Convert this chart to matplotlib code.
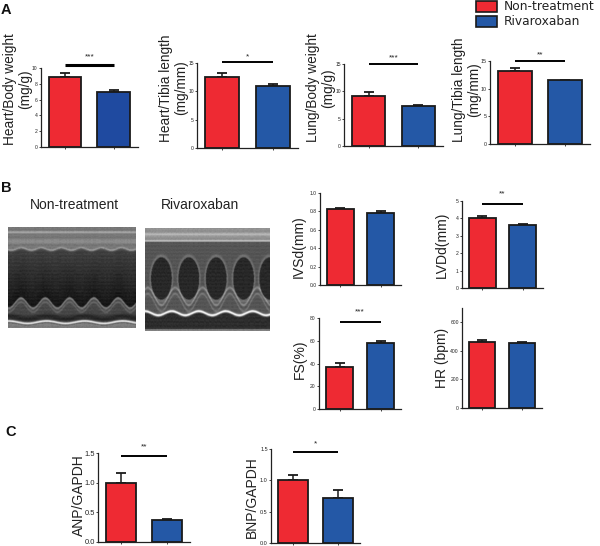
import numpy as np
import matplotlib
matplotlib.use("Agg")
import matplotlib.pyplot as plt
from matplotlib.patches import Rectangle

W, H = 600, 546
RED = "#EE2A33"
BLUE = "#2458A6"
DARK = "#1a1a1a"

# ---------- data ----------
heart_body = [8.8, 7.0];      heart_body_top = [9.4, 7.2]
heart_tibia = [12.5, 11.0];   heart_tibia_top = [13.2, 11.3]
lung_body = [9.2, 7.3];       lung_body_top = [9.9, 7.45]
lung_tibia = [13.2, 11.5];    lung_tibia_top = [13.8, 11.6]
ivsd = [0.83, 0.78];          ivsd_top = [0.84, 0.80]
lvdd = [4.03, 3.6];           lvdd_top = [4.15, 3.67]
fs = [36.5, 58.0];            fs_top = [40.5, 59.5]
hr = [460, 452];              hr_top = [473, 463]
anp = [1.0, 0.37];            anp_top = [1.16, 0.385]
bnp = [1.0, 0.72];            bnp_top = [1.09, 0.85]
groups = ["Non-treatment", "Rivaroxaban"]

plt.rcParams["font.family"] = ["Liberation Sans", "DejaVu Sans"]
fig = plt.figure(figsize=(W / 100, H / 100), dpi=100, facecolor="white")


def px_axes(x0, x1, ytop, ybot):
    return fig.add_axes([x0 / W, 1 - ybot / H, (x1 - x0) / W, (ybot - ytop) / H])


def panel(box, vals, tops, ylim, ticks, ticklabels, sig=None, sig_y=None, sig_lw=1.4,
          tick_fs=3.6, blue=BLUE, star_gap=None):
    ax = px_axes(*box)
    ax.patch.set_alpha(0)
    ax.bar([0, 1], vals, width=0.67, color=[RED, blue], edgecolor=DARK, linewidth=1.3, zorder=2)
    ax.errorbar([0, 1], vals, yerr=[[0, 0], np.array(tops) - np.array(vals)], fmt="none",
                ecolor=DARK, elinewidth=1.1, capsize=3.6, capthick=1.3, zorder=1)
    ax.set_xlim(-0.5, 1.5)
    ax.set_ylim(*ylim)
    ax.set_xticks([0, 1], ["", ""])
    ax.set_yticks(ticks, ticklabels)
    ax.tick_params(axis="both", length=1.5, width=0.6, pad=0.8, labelsize=tick_fs, colors="#222222")
    for s in ("top", "right"):
        ax.spines[s].set_visible(False)
    for s in ("left", "bottom"):
        ax.spines[s].set_linewidth(0.9)
        ax.spines[s].set_color("#222222")
    if sig:
        ax.plot([0, 1], [sig_y, sig_y], color="black", lw=sig_lw, clip_on=False,
                solid_capstyle="butt")
        span = ylim[1] - ylim[0]
        ax.text(0.5, sig_y + span * (star_gap or 0.045), sig, ha="center", va="center",
                fontsize=6, color="#222222", clip_on=False)
    return ax


def ylabel(x, y, text, size=9.8, spacing=1.1):
    fig.text(x / W, 1 - y / H, text, rotation=90, ha="center", va="center",
             fontsize=size, color="#222222", linespacing=spacing, multialignment="center")


# ---------- panel A ----------
panel((40.7, 138, 68, 147), heart_body, heart_body_top, (0, 10), [0, 2, 4, 6, 8, 10],
      list("02468") + ["10"], "***", 10.4, 2.2, blue="#1F4AA0", star_gap=0.1)
panel((197, 298, 63, 148), heart_tibia, heart_tibia_top, (0, 15), [0, 5, 10, 15],
      ["0", "5", "10", "15"], "*", 15.1, star_gap=0.06)
panel((344, 443, 64, 146), lung_body, lung_body_top, (0, 15), [0, 5, 10, 15],
      ["0", "5", "10", "15"], "***", 15.0, star_gap=0.08)
panel((490, 590, 61, 144), lung_tibia, lung_tibia_top, (0, 15), [0, 5, 10, 15],
      ["0", "5", "10", "15"], "**", 15.0, tick_fs=3.8, star_gap=0.07)

ylabel(18, 89, "Heart/Body weight\n(mg/g)")
ylabel(174, 88, "Heart/Tibia length\n(mg/mm)")
ylabel(320.5, 88, "Lung/Body weight\n(mg/g)")
ylabel(466.5, 90, "Lung/Tibia length\n(mg/mm)", spacing=1.05)

# ---------- panel B charts ----------
panel((320, 401, 193, 285), ivsd, ivsd_top, (0, 1.0), [0, .2, .4, .6, .8, 1.0],
      ["0.0", "0.2", "0.4", "0.6", "0.8", "1.0"])
panel((462, 543, 201, 288), lvdd, lvdd_top, (0, 5), [0, 1, 2, 3, 4, 5],
      list("012345"), "**", 4.83, star_gap=0.115)
panel((319, 401, 318, 409), fs, fs_top, (0, 80), [0, 20, 40, 60, 80],
      ["0", "20", "40", "60", "80"], "***", 76.5, star_gap=0.115)
panel((462, 542, 308, 408), hr, hr_top, (0, 698), [0, 200, 400, 600],
      ["0", "200", "400", "600"])

ylabel(299, 247, "IVSd(mm)", 10)
ylabel(442, 245, "LVDd(mm)", 10)
ylabel(300, 359, "FS(%)", 10)
ylabel(442, 358, "HR (bpm)", 10)

# ---------- panel C ----------
panel((98, 190, 453, 542), anp, anp_top, (0, 1.5), [0, .5, 1.0, 1.5],
      ["0.0", "0.5", "1.0", "1.5"], "**", 1.45, tick_fs=5.4, star_gap=0.1)
panel((271, 360, 449, 543), bnp, bnp_top, (0, 1.5), [0, .5, 1.0, 1.5],
      ["0.0", "0.5", "1.0", "1.5"], "*", 1.45, tick_fs=4.0, star_gap=0.09)
ylabel(78.5, 495, "ANP/GAPDH", 10)
ylabel(252, 497, "BNP/GAPDH", 10)


# ---------- panel B echo images (photographs in the source, drawn as grey fields) ----------
def grain(Y, X):
    return (13 * np.sin(X * 1310 + 40 * np.sin(Y * 93)) * np.sin(Y * 1130 + 31 * np.sin(X * 71))
            + 4 * np.sin(Y * 170) + 3 * np.sin(Y * 390 + 1.3 + X * 4))


def band(Y, c, w):
    return np.exp(-((Y - c) / w) ** 2)


def echo_left():
    Y, X = np.mgrid[0:1:202j, 0:1:256j]
    upper = 0.22 + 0.012 * np.sin(X * 40 + 0.6)
    wave = 0.745 - 0.05 * np.cos((X - 0.10) * 33)
    img = np.where(Y < upper, 118.0, 72.0)
    inner = (Y >= upper) & (Y < wave)
    img = np.where(inner, 66 - 44 * np.clip((Y - upper) / (wave - upper), 0, 1), img)
    img += 55 * band(Y, wave + 0.012, 0.012) + 30 * band(Y, wave + 0.05, 0.012)
    img += 50 * band(Y, upper, 0.012) + 50 * band(Y, 0.05, 0.012) + 25 * band(Y, 0.14, 0.02)
    low = 0.945 - 0.012 * np.cos((X - 0.60) * 21)
    img -= 35 * band(Y, low - 0.045, 0.03)
    img += 175 * band(Y, low, 0.011)
    img = np.where(Y > low + 0.02, 125, img)
    return np.clip(img + grain(Y, X), 0, 255)


def echo_right():
    Y, X = np.mgrid[0:1:206j, 0:1:250j]
    img = np.where(Y < 0.13, 145.0, 85.0)
    img += 45 * band(Y, 0.06, 0.012) + 60 * band(Y, 0.125, 0.008)
    phase = np.cos((X - 0.13) * 2 * np.pi / 0.22)
    bottom = 0.635 + 0.085 * phase
    img += 55 * band(Y, bottom + 0.03, 0.013) + 35 * band(Y, bottom + 0.09, 0.014)
    for cx in (0.13, 0.35, 0.57, 0.79, 1.0):
        d = ((X - cx) / 0.083) ** 2 + ((Y - 0.49) / 0.205) ** 2
        img += 28 * np.exp(-((np.sqrt(d) - 1.08) / 0.08) ** 2)
        img = np.where(d < 1, 40, img)
    line = 0.83 - 0.02 * np.cos((X - 0.43) * 29)
    img = np.where(Y > line, 45, img)
    img += 210 * band(Y, line, 0.012)
    img = np.where(Y > 0.985, 130, img)
    return np.clip(img + grain(Y, X), 0, 255)


for (x0, x1, y0, y1), data in (((8, 136, 227, 328), echo_left()),
                               ((145, 270, 228, 331), echo_right())):
    a = px_axes(x0, x1, y0, y1)
    a.imshow(data, cmap="gray", vmin=0, vmax=255, aspect="auto", interpolation="bilinear")
    a.axis("off")

fig.text(74 / W, 1 - 205 / H, groups[0], ha="center", va="center", fontsize=10, color="#222222")
fig.text(200 / W, 1 - 205 / H, groups[1], ha="center", va="center", fontsize=10, color="#222222")

# ---------- panel letters ----------
for letter, x, y in (("A", 1, 10), ("B", 1, 188), ("C", 5, 432)):
    fig.text(x / W, 1 - y / H, letter, ha="left", va="center", fontsize=10.5,
             fontweight="bold", color="#111111")

# ---------- legend ----------
for (y0, y1), col, name in (((1.5, 12), RED, groups[0]), ((16, 27), BLUE, groups[1])):
    fig.add_artist(Rectangle((475.5 / W, 1 - y1 / H), 21 / W, (y1 - y0) / H,
                             transform=fig.transFigure, facecolor=col, edgecolor=DARK, linewidth=1.2))
    fig.text(504 / W, 1 - (y0 + y1) / 2 / H, name, ha="left", va="center", fontsize=8.8,
             family="DejaVu Sans", color="#222222")

fig.savefig("out.png", dpi=100)
